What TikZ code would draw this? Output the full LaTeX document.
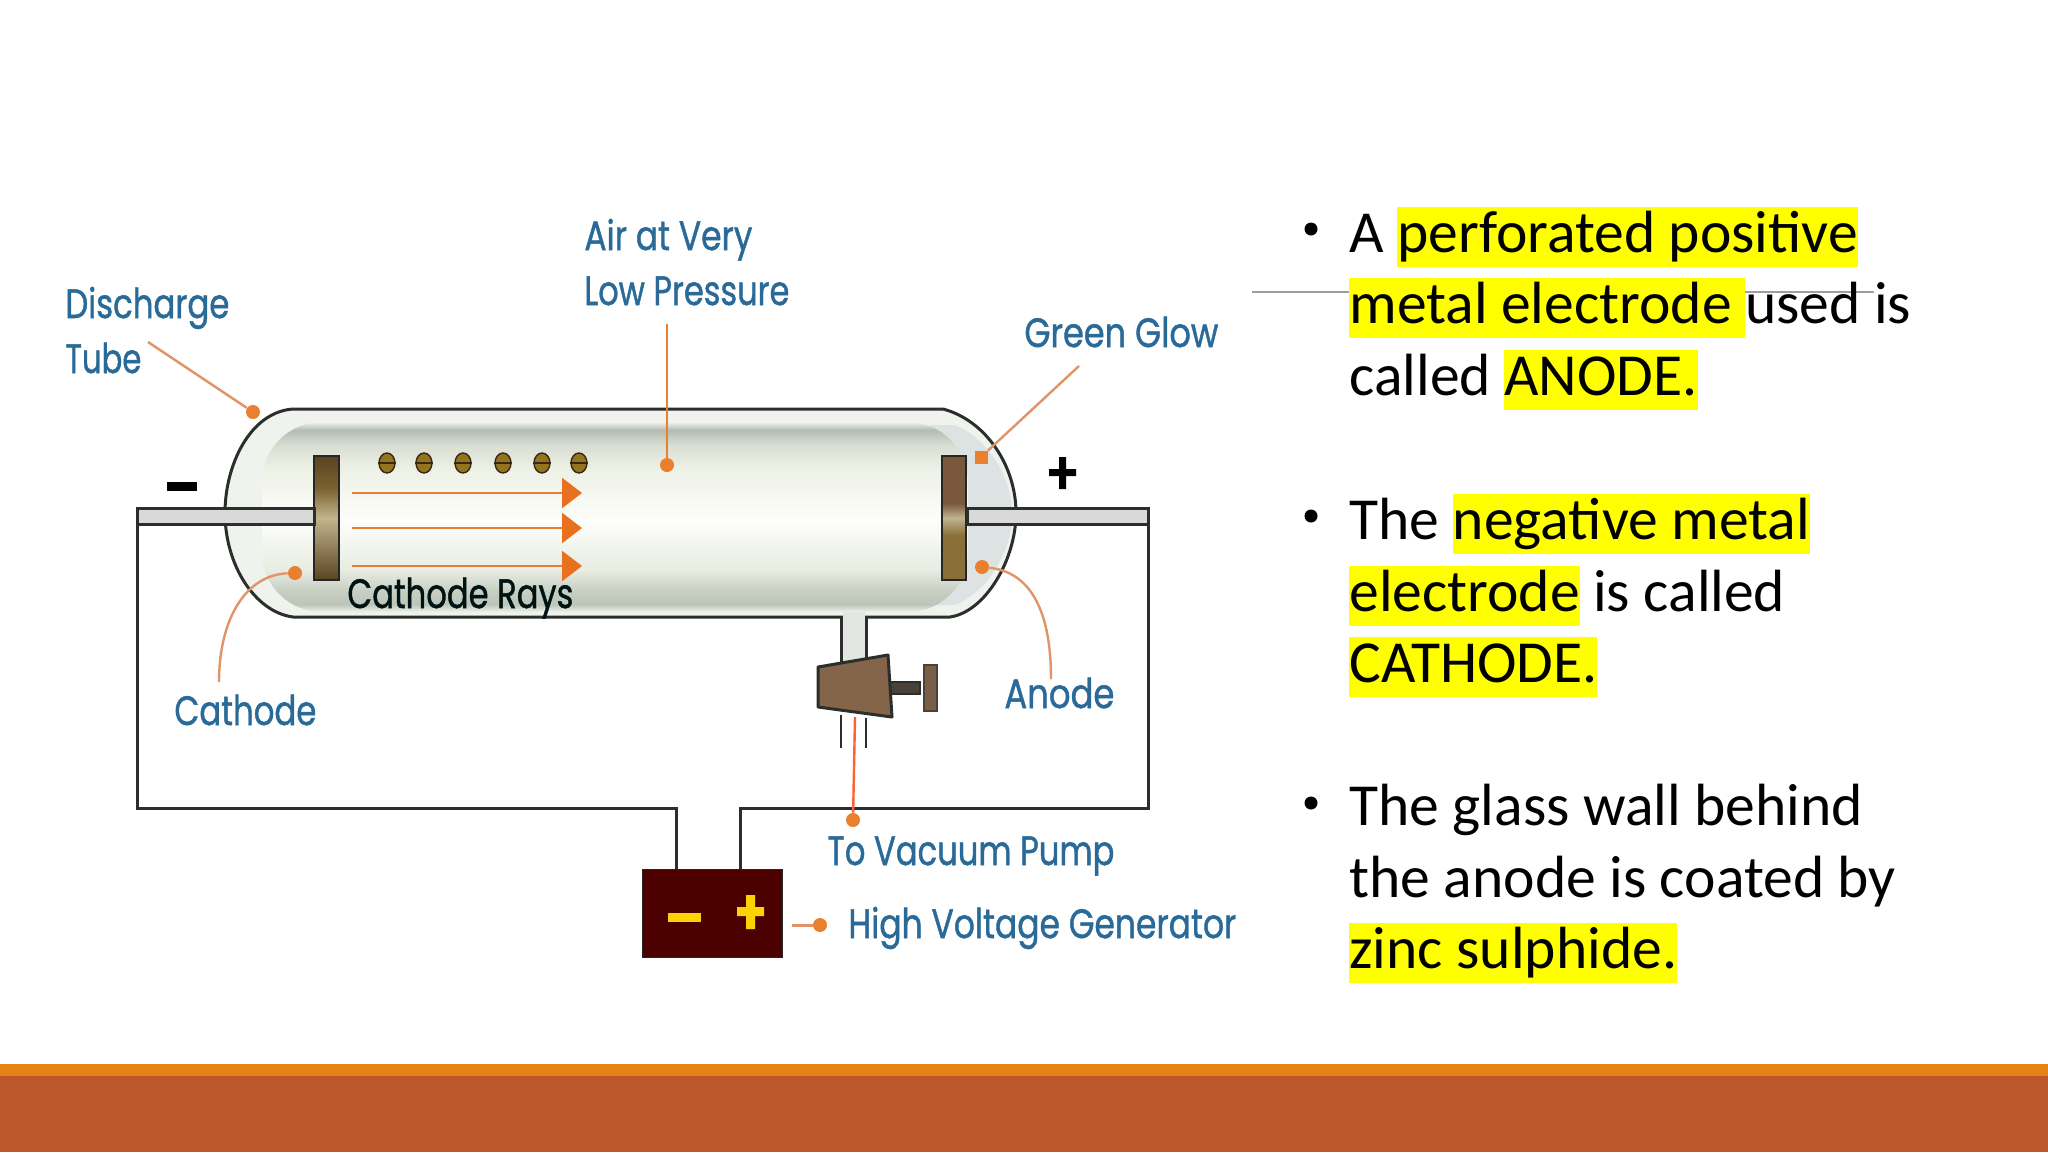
\documentclass[tikz,border=0pt]{standalone}
\usepackage{graphicx}
\usepackage{fontspec}
\setmainfont{Carlito}
\newfontfamily\labelfont[FakeBold=1.2]{Poppins}
\usetikzlibrary{arrows.meta,shapes.geometric}
\definecolor{lblblue}{HTML}{2A6A98}
\definecolor{lead}{HTML}{E8802F}
\definecolor{leadthin}{HTML}{E09468}
\definecolor{wall}{HTML}{2B2F2C}
\definecolor{hlyellow}{HTML}{FFFF00}
\definecolor{HTMLa}{HTML}{F0F2EE}
\definecolor{HTMLb}{HTML}{BCC5B9}
\definecolor{HTMLc}{HTML}{C8D0C4}
\definecolor{HTMLd}{HTML}{E8ECE2}
\definecolor{HTMLe}{HTML}{FDFEFB}
\definecolor{HTMLf}{HTML}{EEF1E6}
\definecolor{HTMLg}{HTML}{D8DDD2}
\definecolor{HTMLh}{HTML}{B2BCB3}
\definecolor{HTMLi}{HTML}{F0F2EE}
\definecolor{footerA}{HTML}{E48312}
\definecolor{footerB}{HTML}{BD582C}
\definecolor{plA}{HTML}{5A4420}
\definecolor{plB}{HTML}{C2B48E}
\definecolor{plC}{HTML}{7B6230}
\definecolor{prA}{HTML}{79583C}
\definecolor{prB}{HTML}{BFB48F}
\definecolor{prC}{HTML}{8A6F38}
\definecolor{cockbody}{HTML}{85654A}
\definecolor{cockstem}{HTML}{4A4238}
\definecolor{cockhandle}{HTML}{7A5F48}
\definecolor{rayhead}{HTML}{E8701E}
\definecolor{capglass}{HTML}{DDE2E3}
\pgfdeclareverticalshading{glassbody}{100bp}{
 color(0bp)=(HTMLa); color(25bp)=(HTMLa); color(27bp)=(HTMLb);
 color(30.8bp)=(HTMLc); color(36bp)=(HTMLd); color(49.2bp)=(HTMLe);
 color(62.4bp)=(HTMLf); color(69bp)=(HTMLg); color(72.9bp)=(HTMLh);
 color(75bp)=(HTMLi); color(100bp)=(HTMLi)}
\pgfdeclareverticalshading{platel}{100bp}{color(0bp)=(plA); color(25bp)=(plA); color(50bp)=(plB); color(62bp)=(plC); color(75bp)=(plA); color(100bp)=(plA)}
\pgfdeclareverticalshading{plater}{100bp}{color(0bp)=(prC); color(25bp)=(prC); color(43bp)=(prC); color(50bp)=(prB); color(56bp)=(prA); color(75bp)=(prA); color(100bp)=(prA)}
\newcommand{\fitw}[2]{\resizebox{#1pt}{\height}{#2}}
\newcommand{\hlt}[1]{\setbox0\hbox{#1}\rlap{\textcolor{hlyellow}{\rule[-7.5pt]{\wd0}{30pt}}}\box0 }
\tikzset{
 lbl/.style={anchor=base west,inner sep=0pt,text=lblblue,font=\labelfont\fontsize{20.5}{24}\selectfont},
 bodytext/.style={anchor=base west,inner sep=0pt,text=black,font=\fontsize{29.8}{35.5}\selectfont},
 bulletdot/.style={circle,fill=black,inner sep=0pt,minimum size=6.5pt},
 leaddot/.style={circle,fill=lead,inner sep=0pt,minimum size=7pt},
 leadline/.style={draw=leadthin,line width=1.2pt},
 wire/.style={draw=wall,line width=1.5pt},
 electron/.style={ellipse,draw=black!70!brown,fill=brown!70!yellow!70!black,line width=.7pt,inner sep=0pt,minimum width=8pt,minimum height=10pt},
 ray/.style={draw=lead!80!brown,line width=1.3pt,-{Triangle[length=10pt,width=15pt,fill=rayhead,color=rayhead]}},
}
\begin{document}
\begin{tikzpicture}[x=0.5pt,y=-0.5pt]
\useasboundingbox (0,0) rectangle (2048,1152);
\fill[white] (0,0) rectangle (2048,1152);
% footer bars
\fill[footerA] (0,1064) rectangle (2048,1076);
\fill[footerB] (0,1076) rectangle (2048,1152);
% thin grey rule
\draw[draw=black!38,line width=.7pt] (1252,292) -- (1874,292);

% tube body
\path[fill=HTMLi] (293,409) -- (943,409) .. controls (985,420) and (1016,465) .. (1016,513) .. controls (1016,560) and (985,612) .. (950,617) -- (293,617) .. controls (255,612) and (225,565) .. (225,513) .. controls (225,465) and (250,412) .. (293,409) -- cycle;
\path[fill=capglass] (930,425) -- (955,425) .. controls (990,440) and (1012,480) .. (1012,513) .. controls (1012,550) and (990,590) .. (955,605) -- (930,605) -- cycle;
\path[shading=glassbody,rounded corners=30pt] (262,422) rectangle (968,612);
\draw[wall,line width=1.5pt] (293,409) -- (943,409) .. controls (985,420) and (1016,465) .. (1016,513) .. controls (1016,560) and (985,612) .. (950,617) -- (293,617) .. controls (255,612) and (225,565) .. (225,513) .. controls (225,465) and (250,412) .. (293,409) -- cycle;

% side tube and stopcock
\path[fill=HTMLc!50!white] (843,612) rectangle (865,672);
\draw[wire] (841,617) -- (841,672) (866,617) -- (866,668);
\draw[wire,line width=1.2pt] (841,715) -- (841,748) (866,718) -- (866,748);
\node[draw=wall,fill=cockstem,line width=1.1pt,inner sep=0pt,minimum width=15pt,minimum height=6pt] (stem) at (905,688) {};
\node[draw=cockstem,fill=cockhandle,line width=1pt,inner sep=0pt,minimum width=6.5pt,minimum height=23pt] (handle) at (930,688) {};
\path[fill=cockbody,draw=wall,line width=1.5pt,line join=round] (818,667) -- (888,655) -- (892,717) -- (818,707) -- cycle;
\coordinate (valvebottom) at (855,717);

% electrodes
\node[draw=black!85,shading=platel,line width=1.2pt,inner sep=0pt,minimum width=12.5pt,minimum height=62pt] (cathodeplate) at (326.5,518) {};
\node[draw=black!85,shading=plater,line width=1.2pt,inner sep=0pt,minimum width=12pt,minimum height=62pt] (anodeplate) at (954,518) {};

% wires through the glass
\path[fill=black!15!white,draw=wall,line width=1.5pt] (137,508) rectangle (314,524);
\path[fill=black!15!white,draw=wall,line width=1.5pt] (967,508) rectangle (1148,524);
\coordinate (lwire) at (137,524);
\coordinate (rwire) at (1148,524);

% generator
\node[draw=black!85,fill=black!60!red!75!black,line width=.8pt,inner sep=0pt,minimum width=70pt,minimum height=44pt] (gen) at (712.5,913.5) {};
\draw[wire] (lwire) -- (137,808.5) -- (676,808.5) -- (676,869);
\draw[wire] (rwire) -- (1148,808.5) -- (740,808.5) -- (740,869);
\fill[yellow!70!orange] (668,913) rectangle (701,922);
\fill[yellow!70!orange] (737,907) rectangle (764,916) (746,895) rectangle (755,929);

% polarity signs
\fill[black] (167,482) rectangle (197,491);
\fill[black] (1049,469) rectangle (1076,476) (1059,457) rectangle (1066,489);

% electrons
\foreach \ex [count=\ei] in {387,424,463,503,542,579}{
 \node[electron] (e\ei) at (\ex,463) {};
 \draw[black!70!brown,line width=.7pt] (e\ei.west) -- (e\ei.east);
}

% cathode rays
\coordinate (r1a) at (352,493); \coordinate (r1b) at (582,493);
\coordinate (r2a) at (352,528); \coordinate (r2b) at (582,528);
\coordinate (r3a) at (352,566); \coordinate (r3b) at (582,566);
\draw[ray] (r1a) -- (r1b);
\draw[ray] (r2a) -- (r2b);
\draw[ray] (r3a) -- (r3b);

% leaders
\node[leaddot] (ddis) at (253,412) {};
\node[leaddot] (dair) at (667,465) {};
\node[leaddot,rectangle,minimum size=6.5pt] (dgreen) at (981,457) {};
\node[leaddot] (danode) at (982,567) {};
\node[leaddot] (dcath) at (295,573) {};
\node[leaddot] (dpump) at (853,820) {};
\node[leaddot] (dgen) at (820,925) {};
\coordinate (ldis) at (148,342);
\coordinate (lair) at (667,324);
\coordinate (lgreen) at (1079,366);
\coordinate (lanode) at (1051,679);
\coordinate (lcath) at (219,682);
\coordinate (lgen) at (792,925);
\draw[leadline] (ldis) -- (ddis);
\draw[leadline,draw=lead] (lair) -- (dair);
\draw[leadline] (lgreen) -- (dgreen);
\draw[leadline] (danode) .. controls (1030,572) and (1051,610) .. (lanode);
\draw[leadline] (dcath) .. controls (245,575) and (219,620) .. (lcath);
\draw[leadline,draw=red!55!orange!80!white] (valvebottom) -- (dpump);
\draw[leadline,line width=1.5pt] (lgen) -- (dgen);

% diagram labels
\node[lbl] (tdis) at (65,318) {\fitw{82}{Discharge}};
\node[lbl] (ttube) at (65,373) {\fitw{38}{Tube}};
\node[lbl] (tair) at (584,250) {\fitw{84}{Air at Very}};
\node[lbl] (tlow) at (584,305) {\fitw{102.5}{Low Pressure}};
\node[lbl] (tgreen) at (1024,347) {\fitw{97}{Green Glow}};
\node[lbl] (tcath) at (174,725) {\fitw{71}{Cathode}};
\node[lbl] (tanode) at (1004,708) {\fitw{55}{Anode}};
\node[lbl] (tpump) at (827,865) {\fitw{143.5}{To Vacuum Pump}};
\node[lbl] (tgen) at (848,938) {\fitw{194}{High Voltage Generator}};
\node[lbl,text=black!85!teal] (trays) at (347,608) {\fitw{113}{Cathode Rays}};

% bullet text
\node[bulletdot] (b1) at (1311,229) {};
\node[bodytext] (l1) at (1349,252) {A \hlt{perforated positive}};
\node[bodytext] (l2) at (1349,323) {\hlt{metal electrode }used is};
\node[bodytext] (l3) at (1349,395) {called \hlt{ANODE.}};
\node[bulletdot] (b2) at (1311,516) {};
\node[bodytext] (l4) at (1349,539) {The \hlt{negative metal}};
\node[bodytext] (l5) at (1349,611) {\hlt{electrode} is called};
\node[bodytext] (l6) at (1349,682) {\hlt{CATHODE.}};
\node[bulletdot] (b3) at (1311,803) {};
\node[bodytext] (l7) at (1349,825) {The glass wall behind};
\node[bodytext] (l8) at (1349,897) {the anode is coated by};
\node[bodytext] (l9) at (1349,968) {\hlt{zinc sulphide.}};
\end{tikzpicture}
\end{document}
